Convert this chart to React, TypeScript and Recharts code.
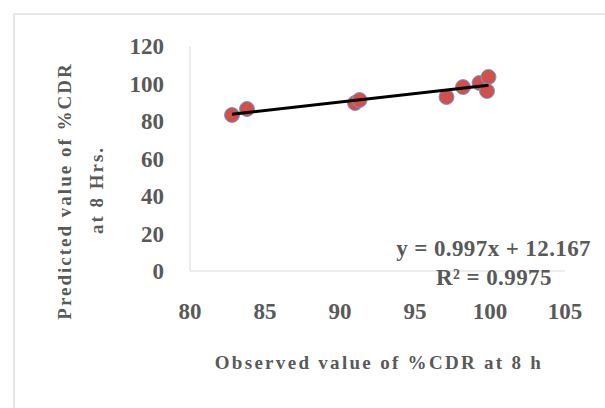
import React from 'react';
import { ScatterChart, Scatter, XAxis, YAxis } from 'recharts';

const observed = [82.8, 83.8, 91.0, 91.3, 97.1, 98.2, 99.3, 99.9, 99.8];
const predicted = [83.2, 86.4, 89.6, 91.2, 92.8, 98.1, 100.3, 103.5, 96.0];
const xTicks = [80, 85, 90, 95, 100, 105];
const yTicks = [0, 20, 40, 60, 80, 100, 120];
const equationText = 'y = 0.997x + 12.167';
const r2Text = 'R² = 0.9975';

const textColor = '#595959';
const font = '"Liberation Serif", "Times New Roman", serif';

const points = observed.map((x, i) => ({ x, y: predicted[i] }));

// least-squares trendline, like the spreadsheet draws it
const n = points.length;
const mx = observed.reduce((s, v) => s + v, 0) / n;
const my = predicted.reduce((s, v) => s + v, 0) / n;
const slope =
  points.reduce((s, p) => s + (p.x - mx) * (p.y - my), 0) /
  points.reduce((s, p) => s + (p.x - mx) ** 2, 0);
const intercept = my - slope * mx;
const xMin = Math.min(...observed);
const xMax = Math.max(...observed);
const trend = [
  { x: xMin, y: slope * xMin + intercept },
  { x: xMax, y: slope * xMax + intercept },
];

const Dot = (props: any) => (
  <circle cx={props.cx} cy={props.cy} r={7.5} fill="#D2504C" stroke="#6A9FD8" strokeWidth={1} />
);

const tickStyle = { fill: textColor, fontSize: 23, fontWeight: 700, fontFamily: font };

const YTitle = () => (
  <g fill={textColor} fontFamily={font} fontWeight={700} fontSize={19} letterSpacing={2}>
    <text x={64} y={191} transform="rotate(-90 64 191)" textAnchor="middle" dominantBaseline="central">
      Predicted value of %CDR
    </text>
    <text x={96} y={190} transform="rotate(-90 96 190)" textAnchor="middle" dominantBaseline="central">
      at 8 Hrs.
    </text>
  </g>
);

const XTitle = () => (
  <g fill={textColor} fontFamily={font} fontWeight={700}>
    <text x={379} y={362} fontSize={19} letterSpacing={2.3} textAnchor="middle" dominantBaseline="central">
      Observed value of %CDR  at 8 h
    </text>
    <text x={591} y={248} fontSize={23} letterSpacing={0.4} textAnchor="end" dominantBaseline="central">
      {equationText}
    </text>
    <text x={494} y={277} fontSize={23} letterSpacing={0.4} textAnchor="middle" dominantBaseline="central">
      {r2Text}
    </text>
  </g>
);

export default function App() {
  return (
    <div style={{ position: 'absolute', left: 0, top: 0, width: 605, height: 408, background: '#fff', overflow: 'hidden' }}>
      <div
        style={{
          position: 'absolute',
          left: 13,
          top: 13,
          width: 620,
          height: 420,
          border: '2px solid #e6e6e6',
        }}
      />
      <ScatterChart width={605} height={408} margin={{ top: 46, right: 40, bottom: 0, left: 0 }}>
        <XAxis
          type="number"
          dataKey="x"
          domain={[80, 105]}
          ticks={xTicks}
          height={137}
          stroke="#d9d9d9"
          tickLine={false}
          tickSize={0}
          tickMargin={32}
          tick={tickStyle}
          label={{ content: XTitle }}
        />
        <YAxis
          type="number"
          dataKey="y"
          domain={[0, 120]}
          ticks={yTicks}
          width={190}
          stroke="#d9d9d9"
          tickLine={false}
          tickSize={0}
          tickMargin={26}
          tick={tickStyle}
          label={{ content: YTitle }}
        />
        <Scatter data={points} shape={<Dot />} isAnimationActive={false} />
        <Scatter
          data={trend}
          line={{ stroke: '#000', strokeWidth: 3 }}
          shape={() => null}
          isAnimationActive={false}
        />
      </ScatterChart>
    </div>
  );
}
